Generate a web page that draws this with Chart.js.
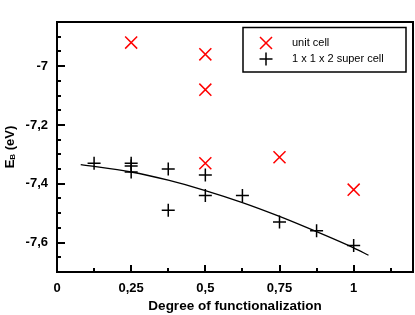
<!DOCTYPE html>
<html>
<head>
<meta charset="utf-8">
<script src="https://cdn.jsdelivr.net/npm/chart.js@4/dist/chart.umd.min.js"></script>
<style>
  body { margin: 0; background: #fff; }
</style>
</head>
<body>
<canvas id="chart" width="415" height="315"></canvas>
<script>
// unit cell (red crosses)
const unitX = [0.25, 0.5, 0.5, 0.5, 0.75, 1];
const unitY = [-6.92, -6.96, -7.08, -7.33, -7.31, -7.42];

// 1 x 1 x 2 super cell (black plus)
const superX = [0.125, 0.25, 0.25, 0.25, 0.375, 0.375, 0.5, 0.5, 0.625, 0.75, 0.875, 1];
const superY = [-7.33, -7.33, -7.34, -7.36, -7.35, -7.49, -7.37, -7.44, -7.44, -7.53, -7.56, -7.61];

// fit curve through super cell points
const fitX = [0.08, 0.25, 0.375, 0.5, 0.625, 0.75, 0.875, 1, 1.05];
const fitY = [-7.335, -7.36, -7.388, -7.423, -7.464, -7.511, -7.563, -7.618, -7.643];

// tick labels
const xTicks = [0, 0.25, 0.5, 0.75, 1];
const xTickLabels = ['0', '0,25', '0,5', '0,75', '1'];
const yTicks = [-7.6, -7.4, -7.2, -7];
const yTickLabels = ['-7,6', '-7,4', '-7,2', '-7'];

const toPoints = (xs, ys) => xs.map((x, i) => ({ x: x, y: ys[i] }));

// rahmen + ticks nach innen
const framePlugin = {
  id: 'frame',
  afterDatasetsDraw(chart) {
    const { ctx, chartArea: a, scales: { x, y } } = chart;
    ctx.save();
    ctx.strokeStyle = '#000';
    ctx.lineWidth = 2;
    ctx.strokeRect(a.left, a.top, a.right - a.left, a.bottom - a.top);
    for (let v = 0.125; v < 1.2; v += 0.125) {
      const px = Math.round(x.getPixelForValue(v));
      const major = Math.abs(v / 0.25 - Math.round(v / 0.25)) < 1e-6;
      ctx.beginPath();
      ctx.moveTo(px, a.bottom);
      ctx.lineTo(px, a.bottom - (major ? 7 : 4));
      ctx.stroke();
    }
    for (let v = -7.65; v < -6.86; v += 0.05) {
      const py = Math.round(y.getPixelForValue(v));
      const major = Math.abs(v / 0.2 - Math.round(v / 0.2)) < 1e-6;
      ctx.beginPath();
      ctx.moveTo(a.left, py);
      ctx.lineTo(a.left + (major ? 8 : 4), py);
      ctx.stroke();
    }
    ctx.restore();
  }
};

// y-Achsentitel mit Index
const yTitlePlugin = {
  id: 'ytitle',
  afterDraw(chart) {
    const ctx = chart.ctx;
    const big = 'bold 13px "Liberation Sans", Arial, sans-serif';
    const small = 'bold 8px "Liberation Sans", Arial, sans-serif';
    ctx.save();
    ctx.translate(10, (chart.chartArea.top + chart.chartArea.bottom) / 2);
    ctx.rotate(-Math.PI / 2);
    ctx.fillStyle = '#000';
    ctx.textBaseline = 'middle';
    ctx.font = big;
    const wE = ctx.measureText('E').width;
    const wRest = ctx.measureText(' (eV)').width;
    ctx.font = small;
    const wB = ctx.measureText('B').width;
    let x0 = -(wE + wB + wRest) / 2;
    ctx.font = big;
    ctx.fillText('E', x0, 0);
    ctx.font = small;
    ctx.fillText('B', x0 + wE, 3);
    ctx.font = big;
    ctx.fillText(' (eV)', x0 + wE + wB, 0);
    ctx.restore();
  }
};

// Legende im Plotbereich
const legendPlugin = {
  id: 'boxlegend',
  afterDraw(chart) {
    const ctx = chart.ctx;
    ctx.save();
    ctx.strokeStyle = '#000';
    ctx.lineWidth = 1.5;
    ctx.strokeRect(243, 27.5, 163, 44.5);
    ctx.font = '11px "Liberation Sans", Arial, sans-serif';
    ctx.textBaseline = 'middle';
    [0, 1].forEach(i => {
      const ds = chart.data.datasets[i];
      const yy = 43 + i * 16;
      ctx.strokeStyle = ds.borderColor;
      Chart.helpers.drawPoint(ctx, {
        pointStyle: ds.pointStyle, radius: ds.pointRadius, rotation: 0, borderWidth: ds.borderWidth
      }, 266, yy);
      ctx.fillStyle = '#000';
      ctx.fillText(ds.label, 292, yy);
    });
    ctx.restore();
  }
};

new Chart(document.getElementById('chart'), {
  type: 'scatter',
  data: {
    datasets: [
      {
        label: 'unit cell',
        data: toPoints(unitX, unitY),
        pointStyle: 'crossRot',
        pointRadius: 8.5,
        borderColor: '#ff0000',
        backgroundColor: '#ff0000',
        borderWidth: 1.5
      },
      {
        label: '1 x 1 x 2 super cell',
        data: toPoints(superX, superY),
        pointStyle: 'cross',
        pointRadius: 6.5,
        borderColor: '#000',
        backgroundColor: '#000',
        borderWidth: 1.5
      },
      {
        label: 'fit',
        data: toPoints(fitX, fitY),
        showLine: true,
        pointRadius: 0,
        borderColor: '#000',
        borderWidth: 1.3,
        cubicInterpolationMode: 'monotone'
      }
    ]
  },
  options: {
    responsive: false,
    animation: false,
    devicePixelRatio: 1,
    layout: { autoPadding: false, padding: { top: 22, right: 2, left: 0, bottom: 0 } },
    plugins: { legend: { display: false }, tooltip: { enabled: false } },
    scales: {
      x: {
        type: 'linear',
        min: 0,
        max: 1.2,
        grid: { display: false, drawTicks: false },
        border: { display: false },
        afterBuildTicks: s => { s.ticks = xTicks.map(v => ({ value: v })); },
        afterFit: s => { s.height = 43; },
        ticks: {
          color: '#000',
          padding: 9,
          maxRotation: 0,
          font: { family: '"Liberation Sans", Arial, sans-serif', size: 13, weight: 'bold' },
          callback: v => xTickLabels[xTicks.indexOf(v)]
        },
        title: {
          display: true,
          text: 'Degree of functionalization',
          color: '#000',
          padding: { top: 0, bottom: 1 },
          font: { family: '"Liberation Sans", Arial, sans-serif', size: 13.5, weight: 'bold' }
        }
      },
      y: {
        type: 'linear',
        min: -7.7,
        max: -6.85,
        grid: { display: false, drawTicks: false },
        border: { display: false },
        afterBuildTicks: s => { s.ticks = yTicks.map(v => ({ value: v })); },
        afterFit: s => { s.width = 57; },
        ticks: {
          color: '#000',
          padding: 9,
          font: { family: '"Liberation Sans", Arial, sans-serif', size: 13, weight: 'bold' },
          callback: v => yTickLabels[yTicks.indexOf(v)]
        }
      }
    }
  },
  plugins: [framePlugin, yTitlePlugin, legendPlugin]
});
</script>
</body>
</html>
